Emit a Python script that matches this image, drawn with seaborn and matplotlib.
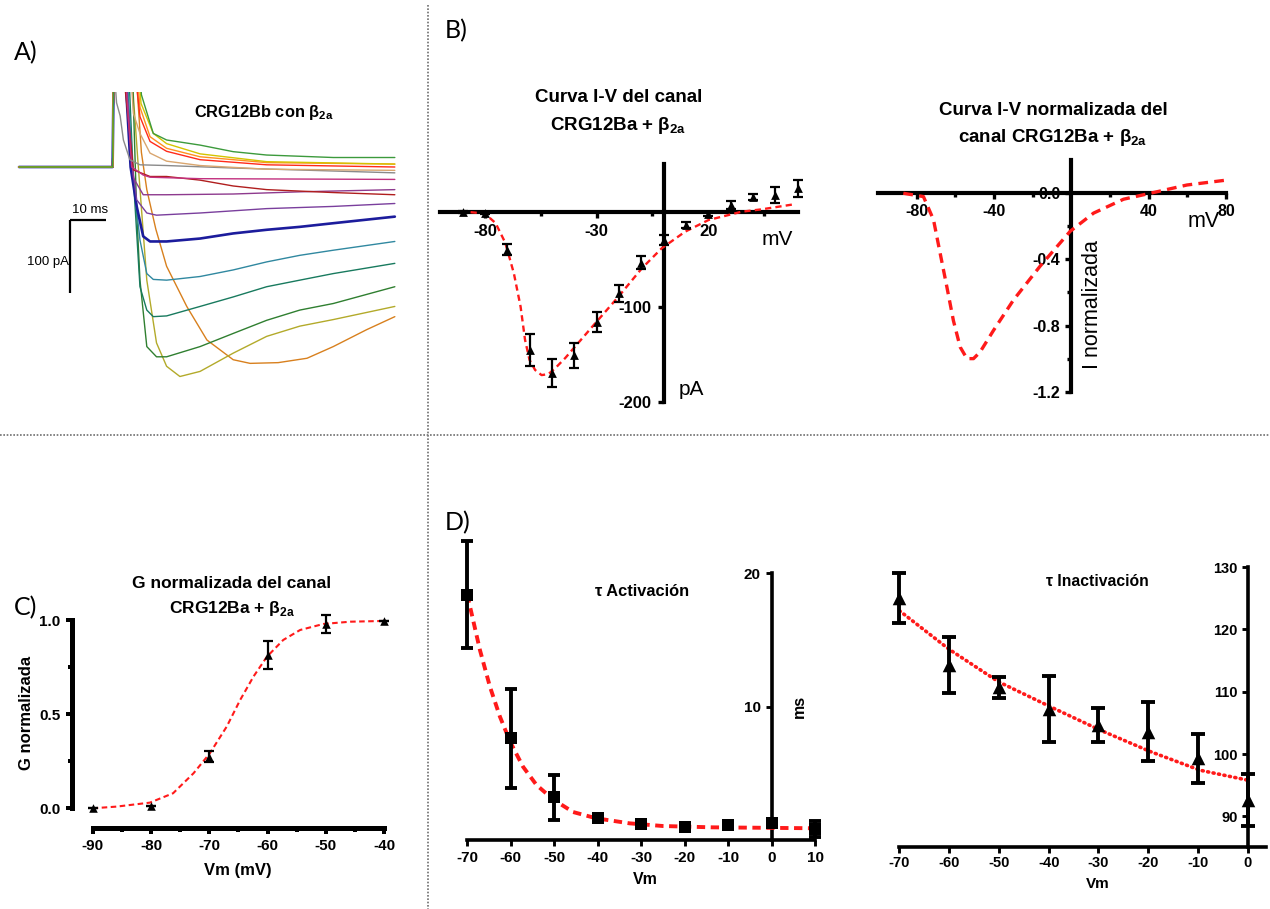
import numpy as np
import pandas as pd
import matplotlib
matplotlib.use("Agg")
import matplotlib.pyplot as plt
from matplotlib.lines import Line2D
import seaborn as sns

sns.set_theme(style="white")
plt.rcParams['font.family'] = ['Liberation Sans', 'DejaVu Sans']
plt.rcParams['mathtext.fontset'] = 'custom'
plt.rcParams['mathtext.rm'] = 'Liberation Sans'
plt.rcParams['mathtext.bf'] = 'Liberation Sans:bold'
plt.rcParams['lines.scale_dashes'] = False
plt.rcParams['axes.unicode_minus'] = False

# ---------------- DATA ----------------
# Panel A: current traces (time ms, current pA)
trace_colors = ["#d8801e", "#b3aa2a", "#2f7f30", "#187a5e", "#3088a0", "#1c1c9c",
                "#7a3f9d", "#8e3a8e", "#b01e1e", "#c2307f", "#8a8a8a", "#d9a66f",
                "#ff9020", "#ff2a1a", "#d4c400", "#3c9a3c"]
trace_t = [
    [32.5, 34, 35.5, 38, 41, 46.6, 52.2, 59.5, 64.2, 72, 80, 87.3, 96.5, 104.4],
    [31.3, 33, 35.5, 38.2, 41, 44.7, 50.3, 59.5, 68.8, 78, 87.3, 104.4],
    [31.5, 32.7, 33.6, 35.5, 38.2, 41, 50.3, 59.5, 68.8, 78, 87.3, 104.4],
    [30.5, 31.8, 33.6, 35.5, 37.3, 41, 50.3, 59.5, 68.8, 78, 87.3, 104.4],
    [30, 31.8, 33.6, 35.5, 37.3, 41, 50.3, 59.5, 68.8, 78, 87.3, 104.4],
    [29.5, 31, 32.7, 34.5, 36.4, 41, 50.3, 59.5, 68.8, 78, 87.3, 104.4],
    [29.5, 31.5, 32.7, 35.5, 38.2, 50.3, 68.8, 87.3, 104.4],
    [29.5, 31.8, 34.5, 41, 59.5, 78, 104.4],
    [29, 31.8, 36.4, 41, 50.3, 59.5, 68.8, 78, 87.3, 104.4],
    [29.5, 31.3, 34.5, 36.4, 50.3, 104.4],
    [26.5, 27.1, 28.1, 29, 30.8, 33.6, 41, 59.5, 104.4],
    [31, 31.8, 33.6, 36.4, 41, 50.3, 68.8, 104.4],
    [32.8, 33.6, 36.4, 41, 50.3, 68.8, 104.4],
    [32.3, 33.6, 36.4, 41, 50.3, 68.8, 104.4],
    [33.2, 33.9, 37.3, 41, 50.3, 68.8, 104.4],
    [33.6, 34.0, 37.3, 41, 50.3, 59.5, 68.8, 87.3, 104.4],
]
trace_i = [
    [130, 20, -31, -85, -136, -191, -237, -264, -269, -268, -262, -246, -223, -205],
    [130, 10, -155, -241, -273, -287, -280, -255, -232, -218, -209, -191],
    [130, -63, -155, -246, -260, -260, -246, -228, -210, -196, -187, -164],
    [130, -18, -164, -196, -205, -204, -191, -178, -164, -155, -146, -132],
    [130, -20, -100, -146, -154, -155, -150, -141, -130, -121, -114, -102],
    [130, 0, -54, -95, -102, -102, -98, -91, -86, -82, -77, -68],
    [130, 0, -45, -63, -66, -63, -57, -54, -50],
    [130, -15, -38, -38, -37, -34, -31],
    [130, -4, -13, -13, -18, -26, -31, -33, -35, -38],
    [130, 0, -11, -14, -16, -17],
    [130, 88, 70, 37, 10, 3, 2, -1.4, -8],
    [130, 73, 46, 19, 8, 2, -3, -4.6],
    [130, 82, 41.5, 25.6, 14, 6, 4],
    [130, 69, 35, 21.5, 10, 3, 0],
    [130, 87, 46, 32, 18, 7.3, 4],
    [130, 99, 46, 37, 30, 21, 16.4, 13, 13],
]
pre_t = [0, 26.0, 26.3]
pre_i = [0, 0, 130]
scale_ms = 10
scale_pA = 100

# Panel B1: I-V curve
iv_v = [-90, -80, -70, -60, -50, -40, -30, -20, -10, 0, 10, 20, 30, 40, 50, 60]
iv_i = [0, -1, -40, -145.6, -170, -151, -115.8, -86, -53.7, -29.8, -14, -2.8, 7, 15.8, 17.5, 24.6]
iv_e = [1, 1, 6, 16.5, 14.5, 13, 10.5, 9, 6.6, 5, 3, 2, 4, 3, 8, 8.8]
iv_fit_v = [-86.4, -80, -75.2, -70.8, -67, -64, -62, -60, -57.5, -54.6, -51.6, -48.6, -44,
            -39.6, -30.6, -20.2, -9.7, -0.8, 9.7, 20.2, 29.1, 35, 44, 59]
iv_fit_i = [-0.5, -2, -12, -33, -65, -100, -135, -156, -166.6, -172, -171, -165, -154,
            -142, -117.5, -89.5, -59.6, -38.5, -21, -8.7, -3.5, 0, 2.5, 8]

# Panel B2: normalized I-V fit
ivn_v = [-86.9, -76.5, -71.3, -67.9, -64.4, -61, -57.5, -54, -50.6, -47.2, -40.3, -29.9,
         -16.1, -0.6, 11.5, 27, 40.8, 59.8, 80.5]
ivn_i = [0, -0.02, -0.16, -0.36, -0.565, -0.77, -0.93, -1.0, -1.0, -0.96, -0.83, -0.645,
         -0.44, -0.23, -0.12, -0.036, 0, 0.05, 0.08]

# Panel C: normalized conductance
g_v = [-90, -80, -70, -60, -50, -40]
g_val = [0.0, 0.01, 0.274, 0.814, 0.979, 0.995]
g_err = [0, 0, 0.028, 0.075, 0.05, 0]
g_fit_v = [-90, -85.9, -80.2, -76.2, -72.7, -69.9, -67, -64.7, -62.4, -60.1, -57.3, -54.4,
           -50.4, -45.8, -40]
g_fit = [0.0, 0.009, 0.03, 0.08, 0.186, 0.292, 0.434, 0.575, 0.7, 0.805, 0.894, 0.947,
         0.979, 0.991, 0.995]

# Panel D1: tau activation
ta_v = [-70, -60, -50, -40, -30, -20, -10, 0, 10]
ta_val = [18.4, 7.63, 3.2, 1.63, 1.18, 1.0, 1.1, 1.25, 0.8]
ta_err = [4.0, 3.7, 1.7, 0, 0, 0, 0, 0, 0.6]
ta_fit_v = [-70, -67.1, -64.8, -62.5, -60.2, -57.2, -54.1, -50.3, -45.7, -40.4, -32.7,
            -25.1, -13.7, 10]
ta_fit = [18.4, 14.25, 11.5, 9.25, 7.4, 5.5, 4.13, 3.05, 2.1, 1.63, 1.25, 1.05, 0.95, 0.88]

# Panel D2: tau inactivation
ti_v = [-70, -60, -50, -40, -30, -20, -10, 0]
ti_val = [125.0, 114.3, 110.7, 107.3, 104.65, 103.6, 99.3, 92.6]
ti_err = [4.0, 4.5, 1.66, 5.3, 2.75, 4.8, 3.9, 4.15]
ti_fit_v = [-70, -60, -50.1, -39.7, -29.7, -19.6, -9.6, 0]
ti_fit = [123.0, 116.8, 111.6, 107.6, 103.85, 100.4, 97.4, 95.8]

# ---------------- FIGURE ----------------
W, H = 1270, 909
fig = plt.figure(figsize=(W / 100, H / 100), dpi=100)
fig.patch.set_facecolor('white')


def add_ax(x0, y0, x1, y1):
    ax = fig.add_axes([x0 / W, 1 - y1 / H, (x1 - x0) / W, (y1 - y0) / H])
    ax.set_facecolor('none')
    ax.grid(False)
    return ax


def ftext(x, y, s, **kw):
    kw.setdefault('color', 'black')
    return fig.text(x / W, 1 - y / H, s, **kw)


def prism(ax, lw, major_len=5, minor_len=4, pad=3):
    for s in ['top', 'right']:
        ax.spines[s].set_visible(False)
    for s in ['left', 'bottom']:
        ax.spines[s].set_linewidth(lw)
        ax.spines[s].set_color('black')
        ax.spines[s].set_capstyle('projecting')
    ax.tick_params(which='both', direction='out', color='black', bottom=True, left=True,
                   width=lw * 0.8, labelcolor='black', pad=pad)
    ax.tick_params(which='major', length=major_len)
    ax.tick_params(which='minor', length=minor_len)


RED = '#ff1a1a'

# dotted dividers
fig.add_artist(Line2D([428 / W, 428 / W], [1 - 5 / H, 0], color='#7a7a7a', lw=1.3,
                      linestyle=(0, (1.2, 1.2))))
fig.add_artist(Line2D([0, 1], [1 - 435 / H, 1 - 435 / H], color='#7a7a7a', lw=1.3,
                      linestyle=(0, (1.2, 1.2))))

# panel labels
for lab, x, y in [("A)", 14, 60), ("B)", 445, 38), ("C)", 14, 615), ("D)", 445, 530)]:
    ftext(x, y, lab, fontsize=18, family=['Lato', 'DejaVu Sans'], ha='left', va='baseline')

# ---------- Panel A ----------
axA = add_ax(0, 92, 420, 400)
axA.set_xlim((0 - 19) / 3.6, (420 - 19) / 3.6)
axA.set_ylim((167 - 400) / 0.73, (167 - 92) / 0.73)
axA.axis('off')
for c, tt, ii in zip(trace_colors, trace_t, trace_i):
    sns.lineplot(x=pre_t + tt, y=pre_i + ii, ax=axA, color=c, sort=False, estimator=None,
                 lw=1.9 if c == "#1c1c9c" else 1.0)
sb_t0 = (70 - 19) / 3.6
sb_i0 = (167 - 220) / 0.73
axA.plot([sb_t0, sb_t0 + scale_ms], [sb_i0, sb_i0], color='black', lw=1.6,
         solid_capstyle='butt')
axA.plot([sb_t0, sb_t0], [sb_i0, sb_i0 - scale_pA], color='black', lw=1.6,
         solid_capstyle='butt')
ftext(90.5, 213, f"{scale_ms} ms", fontsize=9.5, ha='center', va='baseline')
ftext(47.7, 265, f"{scale_pA} pA", fontsize=9.5, ha='center', va='baseline')
ftext(264, 117.5, r"CRG12Bb con β$_{\mathbf{2a}}$", fontsize=11.8, fontweight='bold',
      ha='center', va='baseline')

# ---------- Panel B1 ----------
axB = add_ax(440.2, 164.2, 797.5, 401.7)
axB.set_xlim(-100, 60)
axB.set_ylim(-200, 50)
prism(axB, 3.0, major_len=4, minor_len=3, pad=5)
axB.spines['left'].set_position(('data', 0))
axB.spines['bottom'].set_position(('data', 0))
sns.lineplot(x=iv_fit_v, y=iv_fit_i, ax=axB, color=RED, lw=1.7, sort=False,
             estimator=None, linestyle=(0, (4.5, 3)), zorder=3)
axB.errorbar(iv_v, iv_i, yerr=iv_e, fmt='none', ecolor='black', elinewidth=1.6,
             capsize=3.3, capthick=1.6, clip_on=False, zorder=4)
sns.scatterplot(x=iv_v, y=iv_i, ax=axB, marker='^', s=40, color='black',
                edgecolor='black', linewidth=0, clip_on=False, zorder=5)
axB.set_xticks([-80, -30, 20], labels=['-80', '-30', '20'], fontsize=12, fontweight='bold')
axB.set_xticks([-55, -5, 45], minor=True)
axB.set_yticks([-200, -100], labels=['-200', '-100'], fontsize=12, fontweight='bold')
axB.set_xlabel('')
axB.set_ylabel('')
ftext(618.5, 102, "Curva I-V del canal", fontsize=13.5, fontweight='bold', ha='center',
      va='baseline')
ftext(618.5, 130, r"CRG12Ba + β$_{\mathbf{2a}}$", fontsize=13.5, fontweight='bold',
      ha='center', va='baseline')
ftext(777, 245, "mV", fontsize=15, ha='center', va='baseline')
ftext(691.5, 395, "pA", fontsize=15, ha='center', va='baseline')

# ---------- Panel B2 ----------
axN = add_ax(878, 160.2, 1226, 391.7)
axN.set_xlim(-100, 80)
axN.set_ylim(-1.2, 0.2)
prism(axN, 3.0, major_len=4, minor_len=3, pad=4)
axN.spines['left'].set_position(('data', 0))
axN.spines['bottom'].set_position(('data', 0))
sns.lineplot(x=ivn_v, y=ivn_i, ax=axN, color=RED, lw=2.4, sort=False, estimator=None,
             linestyle=(0, (7, 4.5)), zorder=3)
axN.set_xticks([-80, -40, 40, 80], labels=['-80', '-40', '40', '80'], fontsize=11.5,
               fontweight='bold')
axN.set_xticks([-60, -20, 20, 60], minor=True)
axN.set_yticks([-1.2, -0.8, -0.4, 0.0], labels=['-1.2', '-0.8', '-0.4', '0.0'],
               fontsize=11.5, fontweight='bold')
axN.set_yticks([-1.0, -0.6, -0.2], minor=True)
axN.set_xlabel('')
axN.set_ylabel('')
ftext(1053, 115, "Curva I-V normalizada del", fontsize=13.5, fontweight='bold',
      ha='center', va='baseline')
ftext(1053, 141.7, r"canal CRG12Ba + β$_{\mathbf{2a}}$", fontsize=13.5, fontweight='bold',
      ha='center', va='baseline')
ftext(1204, 227, "mV", fontsize=15.5, ha='center', va='baseline')
ftext(1092.5, 305, "I normalizada", fontsize=15.5, rotation=90, ha='center', va='center')

# ---------- Panel C ----------
axC = add_ax(71.7, 614, 390, 828.3)
axC.set_xlim(-90 - 21 / 5.827, -90 + (390 - 92.7) / 5.827)
axC.set_ylim(-20 / 188.3, (808.3 - 614) / 188.3)
prism(axC, 3.6, major_len=4, minor_len=3, pad=4)
axC.spines['left'].set_bounds(0, 1)
axC.spines['bottom'].set_bounds(-90, -40)
sns.lineplot(x=g_fit_v, y=g_fit, ax=axC, color=RED, lw=1.5, sort=False, estimator=None,
             linestyle=(0, (4, 2.5)), zorder=3)
axC.errorbar(g_v, g_val, yerr=g_err, fmt='none', ecolor='black', elinewidth=1.6,
             capsize=3.5, capthick=1.6, clip_on=False, zorder=4)
sns.scatterplot(x=g_v, y=g_val, ax=axC, marker='^', s=38, color='black',
                edgecolor='black', linewidth=0, clip_on=False, zorder=5)
axC.set_xticks([-90, -80, -70, -60, -50, -40],
               labels=['-90', '-80', '-70', '-60', '-50', '-40'], fontsize=11,
               fontweight='bold')
axC.set_xticks([-85, -75, -65, -55, -45], minor=True)
axC.set_yticks([0, 0.5, 1.0], labels=['0.0', '0.5', '1.0'], fontsize=11, fontweight='bold')
axC.set_yticks([0.25, 0.75], minor=True)
axC.set_xlabel('')
axC.set_ylabel('')
ftext(231.7, 588.5, "G normalizada del canal", fontsize=12.5, fontweight='bold',
      ha='center', va='baseline')
ftext(231.7, 613.5, r"CRG12Ba + β$_{\mathbf{2a}}$", fontsize=12.5, fontweight='bold',
      ha='center', va='baseline')
ftext(238, 875, "Vm (mV)", fontsize=12, fontweight='bold', ha='center', va='baseline')
ftext(26.7, 713, "G normalizada", fontsize=12, fontweight='bold', rotation=90,
      ha='center', va='center')

# ---------- Panel D1 ----------
axD = add_ax(467.3, 573.3, 815.3, 840)
axD.set_xlim(-70, 10)
axD.set_ylim(0, 20)
prism(axD, 2.6, major_len=4, minor_len=3, pad=4)
axD.spines['left'].set_position(('data', 0))
sns.lineplot(x=ta_fit_v, y=ta_fit, ax=axD, color=RED, lw=2.8, sort=False, estimator=None,
             linestyle=(0, (6, 4)), zorder=3)
axD.errorbar(ta_v, ta_val, yerr=ta_err, fmt='none', ecolor='black', elinewidth=2.8,
             capsize=4.5, capthick=2.8, clip_on=False, zorder=4)
sns.scatterplot(x=ta_v, y=ta_val, ax=axD, marker='s', s=70, color='black',
                edgecolor='black', linewidth=0, clip_on=False, zorder=5)
axD.set_xticks(list(range(-70, 11, 10)),
               labels=['-70', '-60', '-50', '-40', '-30', '-20', '-10', '0', '10'],
               fontsize=11, fontweight='bold')
axD.set_yticks([10, 20], labels=['10', '20'], fontsize=11, fontweight='bold')
axD.set_xlabel('')
axD.set_ylabel('')
ftext(641.7, 596.5, "τ Activación", fontsize=11.8, fontweight='bold', ha='center',
      va='baseline')
ftext(645, 884, "Vm", fontsize=11.5, fontweight='bold', ha='center', va='baseline')
ftext(799, 706, "ms", fontsize=11.5, fontweight='bold', rotation=90, ha='center',
      va='center')

# ---------- Panel D2 ----------
axE = add_ax(899.4, 567.1, 1266, 846.7)
axE.set_xlim(-70, (1266 - 1247.7) / 4.976)
axE.set_ylim(100 - (846.7 - 754) / 6.23, 130)
prism(axE, 2.6, major_len=4, minor_len=3, pad=3)
axE.spines['left'].set_position(('data', 0))
sns.lineplot(x=ti_fit_v, y=ti_fit, ax=axE, color=RED, lw=2.6, sort=False, estimator=None,
             linestyle=(0, (0.8, 3.2)), dash_capstyle='round', zorder=3)
axE.errorbar(ti_v, ti_val, yerr=ti_err, fmt='none', ecolor='black', elinewidth=2.8,
             capsize=5, capthick=2.8, clip_on=False, zorder=4)
sns.scatterplot(x=ti_v, y=ti_val, ax=axE, marker='^', s=95, color='black',
                edgecolor='black', linewidth=0, clip_on=False, zorder=5)
axE.set_xticks(list(range(-70, 1, 10)),
               labels=['-70', '-60', '-50', '-40', '-30', '-20', '-10', '0'],
               fontsize=10.5, fontweight='bold')
axE.set_yticks([90, 100, 110, 120, 130], labels=['90', '100', '110', '120', '130'],
               fontsize=10.5, fontweight='bold')
axE.set_xlabel('')
axE.set_ylabel('')
ftext(1097.5, 586, "τ Inactivación", fontsize=11.3, fontweight='bold', ha='center',
      va='baseline')
ftext(1098, 888, "Vm", fontsize=11, fontweight='bold', ha='center', va='baseline')

fig.savefig("out.png", dpi=100, facecolor='white')
